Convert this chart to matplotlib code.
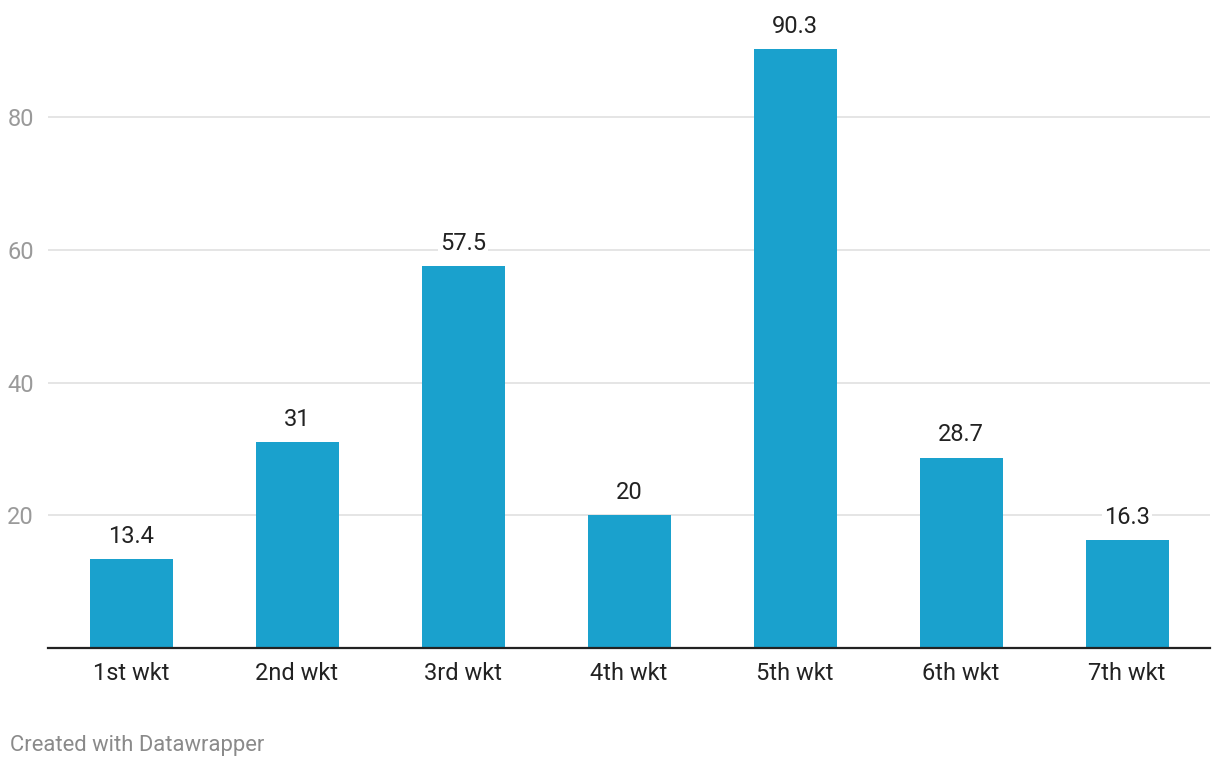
import matplotlib
matplotlib.use('Agg')
import matplotlib.pyplot as plt

# data
cats = ['1st wkt', '2nd wkt', '3rd wkt', '4th wkt', '5th wkt', '6th wkt', '7th wkt']
vals = [13.4, 31, 57.5, 20, 90.3, 28.7, 16.3]
labels = ['13.4', '31', '57.5', '20', '90.3', '28.7', '16.3']
yticks = [20, 40, 60, 80]

plt.rcParams['font.family'] = ['Roboto', 'DejaVu Sans']

fig = plt.figure(figsize=(12.2, 7.68), dpi=100)
ax = fig.add_axes([48/1220, 120/768, 1162/1220, 648/768])

x = range(len(cats))
ax.bar(x, vals, width=0.5, color='#1aa1cd', zorder=2)
ax.set_xlim(-0.5, len(cats) - 0.5)
ax.set_ylim(0, 97.63)

for xi, v, lab in zip(x, vals, labels):
    ax.annotate(lab, (xi, v), xytext=(0, 8), textcoords='offset points',
                ha='center', va='bottom', fontsize=17, color='#222222',
                bbox=dict(boxstyle='square,pad=0.1', fc='white', ec='none'),
                zorder=3, annotation_clip=False)

ax.set_yticks(yticks)
ax.set_yticklabels([str(t) for t in yticks])
ax.yaxis.grid(True, color='#e3e3e3', linewidth=1.3, zorder=0)
ax.tick_params(axis='y', length=0, pad=10, labelsize=17, labelcolor='#9a9a9a')
ax.set_xticks(list(x))
ax.set_xticklabels(cats)
ax.tick_params(axis='x', length=0, pad=10, labelsize=17, labelcolor='#222222')

for s in ['top', 'right', 'left']:
    ax.spines[s].set_visible(False)
ax.spines['bottom'].set_color('#222222')
ax.spines['bottom'].set_linewidth(1.6)
ax.spines['bottom'].set_zorder(4)

fig.text(10/1220, 1 - 745/768, 'Created with Datawrapper', fontsize=15.8,
         color='#8a8a8a', ha='left', va='center')

fig.savefig('out.png', dpi=100)
